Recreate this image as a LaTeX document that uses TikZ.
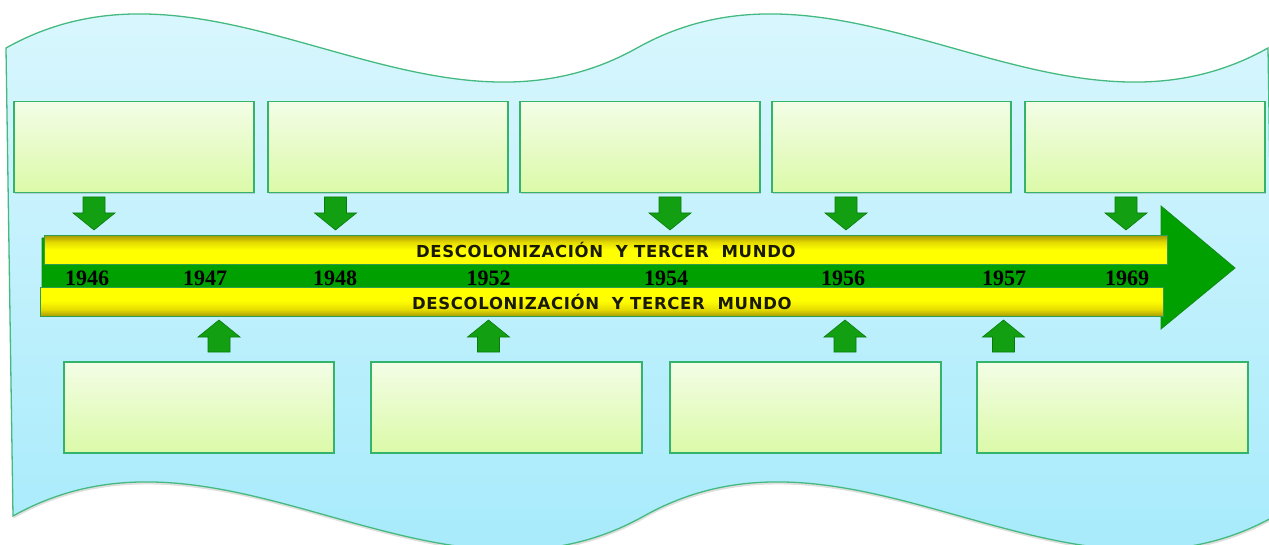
\documentclass[tikz,border=0pt]{standalone}
\usepackage{fontspec}
\newfontfamily\barfont{DejaVu Sans}[LetterSpace=4]
\newfontfamily\yearfont{Liberation Serif}
\usetikzlibrary{shadows}
\definecolor{bgtop}{HTML}{E0F8FE}
\definecolor{bgbot}{HTML}{A0E9FB}
\definecolor{bgline}{HTML}{45BA80}
\definecolor{boxtop}{HTML}{F3FDE6}
\definecolor{boxbot}{HTML}{DBFAA8}
\definecolor{boxline}{HTML}{34B46A}
\definecolor{tlgreen}{HTML}{00A000}
\definecolor{tldark}{HTML}{138A13}
\definecolor{arrgreen}{HTML}{12A012}
\definecolor{arrdark}{HTML}{0B7A0B}
\definecolor{ybright}{HTML}{FFFF00}
\definecolor{ymid}{HTML}{E6DC00}
\definecolor{ydark}{HTML}{A89A00}
\definecolor{bartext}{HTML}{1A1A00}
\definecolor{barline}{HTML}{2E9E4E}
\pgfdeclareverticalshading{barup}{100bp}{color(0bp)=(ybright); color(25bp)=(ybright); color(50bp)=(ybright); color(63bp)=(ymid); color(75bp)=(ydark); color(100bp)=(ydark)}
\pgfdeclareverticalshading{bardown}{100bp}{color(0bp)=(ydark); color(25bp)=(ydark); color(37bp)=(ymid); color(52bp)=(ybright); color(75bp)=(ybright); color(100bp)=(ybright)}
\begin{document}
\begin{tikzpicture}[x=1pt,y=-1pt,
  bg/.style={draw=bgline, line width=1.3pt, top color=bgtop, bottom color=bgbot,
    drop shadow={opacity=0.25, shadow xshift=0.5pt, shadow yshift=-2.5pt}},
  infobox/.style={draw=boxline, line width=1.5pt, top color=boxtop, bottom color=boxbot,
    minimum height=91pt, inner sep=0pt, anchor=north west,
    drop shadow={opacity=0.3, shadow xshift=1pt, shadow yshift=-1.5pt}},
  tlbar/.style={draw=barline, line width=0.8pt, minimum width=1123pt, minimum height=29pt,
    inner sep=0pt, anchor=north west, text=bartext,
    font=\barfont\bfseries\fontsize{16.5}{16.5}\selectfont},
  yearlbl/.style={anchor=base, inner sep=0pt, text=black,
    font=\yearfont\bfseries\fontsize{22}{22}\selectfont},
  smallarr/.style={fill=arrgreen, draw=arrdark, line width=0.6pt, line join=miter},
  downarr/.pic={\path[smallarr] (-11,0) -- (11,0) -- (11,16) -- (21,16) -- (0,33) -- (-21,16) -- (-11,16) -- cycle;},
  uparr/.pic={\path[smallarr] (0,0) -- (21,17) -- (11,17) -- (11,32) -- (-11,32) -- (-11,17) -- (-21,17) -- cycle;}
]
\useasboundingbox (0,0) rectangle (1269,545);
\clip (0,0) rectangle (1269,545);
% wavy background
\path[bg] (6,48) .. controls (216.3,-70) and (426.7,166) .. (637,48)
  .. controls (847.3,-70) and (1057.7,166) .. (1268,48)
  -- (1275,516) .. controls (1064.7,634) and (854.3,398) .. (644,516)
  .. controls (433.7,634) and (223.3,398) .. (13,516) -- cycle;
% top boxes
\node[infobox, minimum width=240pt] (t1) at (13,101) {};
\node[infobox, minimum width=240pt] (t2) at (267,101) {};
\node[infobox, minimum width=240pt] (t3) at (519,101) {};
\node[infobox, minimum width=239pt] (t4) at (771,101) {};
\node[infobox, minimum width=240pt] (t5) at (1024,101) {};
% bottom boxes
\node[infobox, minimum width=270pt] (b1) at (63,361) {};
\node[infobox, minimum width=271pt] (b2) at (370,361) {};
\node[infobox, minimum width=271pt] (b3) at (669,361) {};
\node[infobox, minimum width=271pt] (b4) at (976,361) {};
% timeline arrow
\path[fill=tlgreen, draw=tldark, line width=0.8pt, line join=miter]
  (42,238) -- (1161,238) -- (1161,206) -- (1235,268) -- (1161,329) -- (1161,300) -- (42,300) -- cycle;
% years
\node[yearlbl] (y1946) at (87,286) {1946};
\node[yearlbl] (y1947) at (205,286) {1947};
\node[yearlbl] (y1948) at (335,286) {1948};
\node[yearlbl] (y1952) at (488.5,286) {1952};
\node[yearlbl] (y1954) at (666,286) {1954};
\node[yearlbl] (y1956) at (843,286) {1956};
\node[yearlbl] (y1957) at (1004,286) {1957};
\node[yearlbl] (y1969) at (1127,286) {1969};
% bars
\node[tlbar, shading=barup] (ubar) at (44,235) {DESCOLONIZACIÓN\ \ Y TERCER\ \ MUNDO};
\node[tlbar, shading=bardown] (lbar) at (40,287) {DESCOLONIZACIÓN\ \ Y TERCER\ \ MUNDO};
% small arrows
\pic at (94,197) {downarr};
\pic at (335.5,197) {downarr};
\pic at (670,197) {downarr};
\pic at (846,197) {downarr};
\pic at (1126,197) {downarr};
\pic at (219,320) {uparr};
\pic at (488.5,320) {uparr};
\pic at (845,320) {uparr};
\pic at (1003.5,320) {uparr};
\end{tikzpicture}
\end{document}
